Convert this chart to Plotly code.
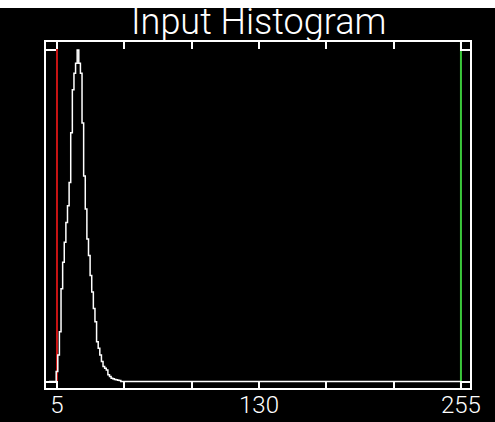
import plotly.graph_objects as go

# ---- data ----
title_text = "Input Histogram"
stretch_min = 5
stretch_max = 255
bins = list(range(0, 256))
# normalised counts for bins 0..45, zero afterwards
counts_head = [0, 0, 0, 0, 0.0, 0.03, 0.08, 0.15, 0.28, 0.36,
               0.42, 0.48, 0.53, 0.60, 0.75, 0.88, 0.93, 0.96, 1.0, 0.96,
               0.93, 0.78, 0.62, 0.52, 0.43, 0.38, 0.32, 0.27, 0.22, 0.18,
               0.12, 0.10, 0.08, 0.06, 0.045, 0.04, 0.035, 0.02, 0.015, 0.01,
               0.008, 0.006, 0.005, 0.004, 0.003, 0.0]
counts = counts_head + [0.0] * (len(bins) - len(counts_head))
tick_values = [stretch_min + k * (stretch_max - stretch_min) / 6 for k in range(7)]
tick_labels = ["5", "", "", "130", "", "", "255"]

FONT = "Roboto, DejaVu Sans, sans-serif"

W, H, B = 495, 422, 34
PH = H - B  # paper height in px (top margin 0)

fig = go.Figure()
fig.add_trace(go.Scatter(x=bins, y=counts, mode="lines", line_shape="hvh",
                         line=dict(color="white", width=1.5), hoverinfo="skip"))

fig.add_shape(type="line", xref="x", yref="y domain", x0=stretch_min, x1=stretch_min,
              y0=0, y1=1, line=dict(color="#c81414", width=2), layer="below")
fig.add_shape(type="line", xref="x", yref="y domain", x0=stretch_max, x1=stretch_max,
              y0=0, y1=1, line=dict(color="#3cc83c", width=2), layer="below")
# white strip at the very top of the window
fig.add_shape(type="rect", xref="paper", yref="paper", x0=0, x1=1,
              y0=(PH - 8) / PH, y1=1, fillcolor="white", line=dict(width=0),
              layer="above")

fig.add_annotation(text=title_text, xref="paper", yref="paper",
                   x=(46 + 470) / 2 / W, y=(PH - 42 - 3) / PH,
                   xanchor="center", yanchor="bottom", showarrow=False,
                   font=dict(family=FONT, size=36, color="white", weight=300))

fig.update_layout(
    width=W, height=H,
    margin=dict(l=0, r=0, t=0, b=B, autoexpand=False),
    paper_bgcolor="black", plot_bgcolor="black",
    showlegend=False,
    xaxis=dict(domain=[46 / W, 470 / W], range=[-1.8, 260.6],
               tickvals=tick_values, ticktext=tick_labels,
               ticks="inside", ticklen=7, tickwidth=1.5, tickcolor="white",
               showline=True, linecolor="white", linewidth=1.5, mirror="allticks",
               showgrid=False, zeroline=False, automargin=False, ticklabelstandoff=-6,
               tickfont=dict(family=FONT, size=24, color="white", weight=300)),
    yaxis=dict(domain=[0, (PH - 42) / PH], range=[-0.0196, 1.0241],
               tickvals=[0, 1], showticklabels=False,
               ticks="inside", ticklen=10, tickwidth=1.5, tickcolor="white",
               showline=True, linecolor="white", linewidth=1.5, mirror="allticks",
               showgrid=False, zeroline=False, automargin=False),
)

fig.write_html("out.html", config={"displayModeBar": False},
               post_script="document.body.style.margin='0';")
